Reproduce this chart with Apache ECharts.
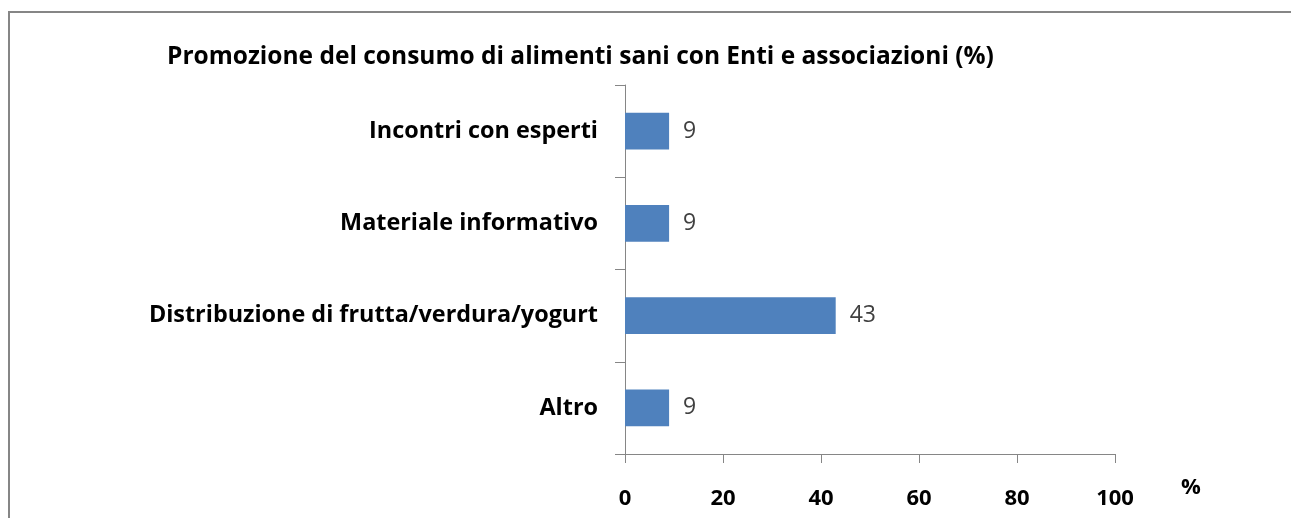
<!DOCTYPE html>
<html>
<head>
<meta charset="utf-8">
<script src="https://cdn.jsdelivr.net/npm/echarts@6/dist/echarts.min.js"></script>
<style>
  html, body { margin: 0; padding: 0; background: #fff; }
  #main { width: 1291px; height: 518px; }
</style>
</head>
<body>
<div id="main"></div>
<script>
// dati del grafico
var categorie = ['Incontri con esperti', 'Materiale informativo', 'Distribuzione di frutta/verdura/yogurt', 'Altro'];
var valori = [9, 9, 43, 9];
var tickX = [0, 20, 40, 60, 80, 100];

var font = 'Open Sans';
var grigio = '#868686';

var myChart = echarts.init(document.getElementById('main'));
var option = {
    animation: false,
    backgroundColor: '#fff',
    title: {
        text: 'Promozione del consumo di alimenti sani con Enti e associazioni (%)',
        left: 167,
        top: 45,
        padding: 0,
        textStyle: { fontFamily: font, fontSize: 24.5, fontWeight: 'bold', color: '#000' }
    },
    graphic: [{
        type: 'rect',
        shape: { x: 9, y: 12, width: 1400, height: 600 },
        style: { fill: 'none', stroke: grigio, lineWidth: 2 },
        silent: true
    }],
    grid: { left: 625, right: 176, top: 85, bottom: 64 },
    xAxis: {
        type: 'value',
        min: tickX[0],
        max: tickX[tickX.length - 1],
        interval: 20,
        name: '%',
        nameLocation: 'end',
        nameGap: 66,
        nameTextStyle: { fontFamily: font, fontSize: 22, fontWeight: 'bold', color: '#000', verticalAlign: 'top', padding: [23, 0, 0, 0] },
        axisLine: { show: true, lineStyle: { color: grigio, width: 1 } },
        axisTick: { show: true, length: 9, lineStyle: { color: grigio } },
        axisLabel: { margin: 34, fontFamily: font, fontSize: 22, fontWeight: 'bold', color: '#000' },
        splitLine: { show: false }
    },
    yAxis: {
        type: 'category',
        inverse: true,
        data: categorie,
        axisLine: { show: true, lineStyle: { color: grigio, width: 1 } },
        axisTick: { show: true, length: 10, lineStyle: { color: grigio } },
        axisLabel: { margin: 27, fontFamily: font, fontSize: 23.4, fontWeight: 'bold', color: '#000' }
    },
    series: [{
        type: 'bar',
        data: valori,
        barWidth: '40%',
        itemStyle: { color: '#4F81BD' },
        label: {
            show: true,
            position: 'right',
            distance: 14,
            fontFamily: font,
            fontSize: 23,
            color: '#404040'
        }
    }]
};
myChart.setOption(option);
</script>
</body>
</html>
